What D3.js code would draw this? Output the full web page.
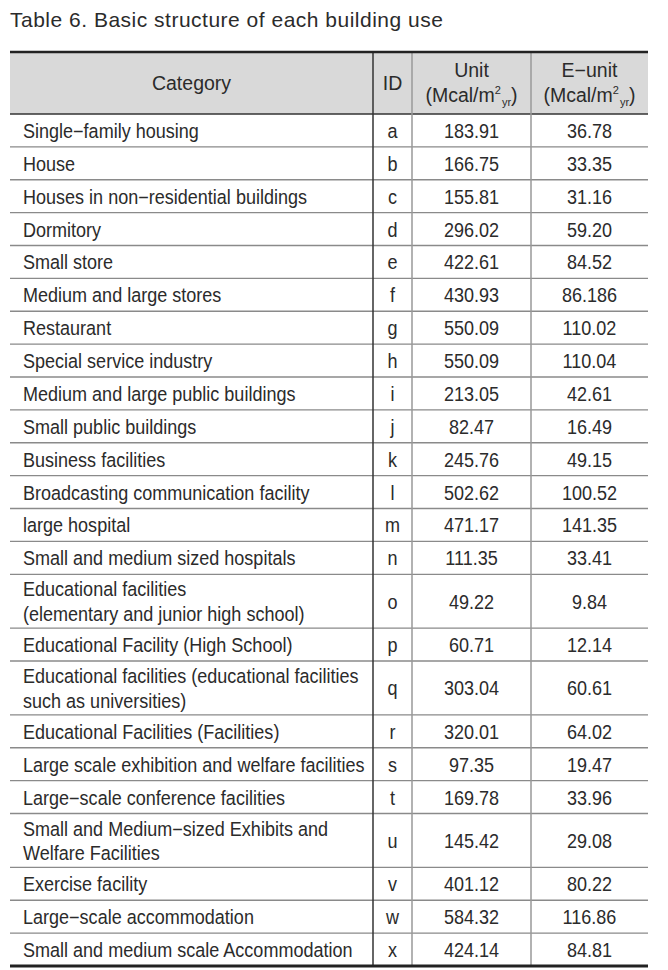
<!DOCTYPE html>
<html>
<head>
<meta charset="utf-8">
<script src="https://cdn.jsdelivr.net/npm/d3@7"></script>
<style>
  body { margin: 0; background: #fff; }
  svg text { font-family: "Liberation Sans", Arial, sans-serif; fill: #2b2b2b; }
</style>
</head>
<body>
<svg id="chart" width="668" height="970"></svg>
<script>
// table content
var title = "Table 6. Basic structure of each building use";

var categories = [
  "Single\u2212family housing",
  "House",
  "Houses in non\u2212residential buildings",
  "Dormitory",
  "Small store",
  "Medium and large stores",
  "Restaurant",
  "Special service industry",
  "Medium and large public buildings",
  "Small public buildings",
  "Business facilities",
  "Broadcasting communication facility",
  "large hospital",
  "Small and medium sized hospitals",
  "Educational facilities\n(elementary and junior high school)",
  "Educational Facility (High School)",
  "Educational facilities (educational facilities\nsuch as universities)",
  "Educational Facilities (Facilities)",
  "Large scale exhibition and welfare facilities",
  "Large\u2212scale conference facilities",
  "Small and Medium\u2212sized Exhibits and\nWelfare Facilities",
  "Exercise facility",
  "Large\u2212scale accommodation",
  "Small and medium scale Accommodation"
];

var ids = ["a","b","c","d","e","f","g","h","i","j","k","l","m","n","o","p","q","r","s","t","u","v","w","x"];

var unitValues = ["183.91","166.75","155.81","296.02","422.61","430.93","550.09","550.09","213.05","82.47",
  "245.76","502.62","471.17","111.35","49.22","60.71","303.04","320.01","97.35","169.78",
  "145.42","401.12","584.32","424.14"];

var eunitValues = ["36.78","33.35","31.16","59.20","84.52","86.186","110.02","110.04","42.61","16.49",
  "49.15","100.52","141.35","33.41","9.84","12.14","60.61","64.02","19.47","33.96",
  "29.08","80.22","116.86","84.81"];

var columnHeaders = ["Category", "ID", "Unit", "E\u2212unit"];

function drawTable() {
  var svg = d3.select("#chart");

  var tLeft = 10, tRight = 648,
      tTop = 52, headerH = 62,
      rowH = 32.9, lineH = 24.5, tBottom = 966,
      squeeze = 0.925;   // body font is a narrow face

  // column edges
  var colEdges = [tLeft, 373, 412, 531, tRight];

  // row layout
  var rows = categories.map(function (c, i) {
    var lines = c.split("\n");
    return {cat: lines, id: ids[i], unit: unitValues[i], eunit: eunitValues[i],
            h: lines.length > 1 ? rowH + 21 : rowH};
  });
  var y0 = tTop + headerH;
  var totalH = d3.sum(rows, function (d) { return d.h; });
  var k = (tBottom - y0) / totalH;
  rows.forEach(function (d) { d.h *= k; d.y = y0; y0 += d.h; });

  // title
  svg.append("text")
    .attr("x", tLeft)
    .attr("y", 27)
    .style("font-size", "21px")
    .style("letter-spacing", "0.5px")
    .text(title);

  // header background
  svg.append("rect")
    .attr("x", tLeft).attr("y", tTop)
    .attr("width", tRight - tLeft).attr("height", headerH)
    .attr("fill", "#d9d9d9");

  // row lines
  svg.selectAll("line.row")
    .data(rows.slice(1))
    .enter().append("line")
    .attr("class", "row")
    .attr("x1", tLeft).attr("x2", tRight)
    .attr("y1", function (d) { return d.y; })
    .attr("y2", function (d) { return d.y; })
    .attr("stroke", "#8a8a8a").attr("stroke-width", 1.3);

  svg.append("line")
    .attr("x1", tLeft).attr("x2", tRight)
    .attr("y1", tTop + headerH).attr("y2", tTop + headerH)
    .attr("stroke", "#333").attr("stroke-width", 1.3);

  // column lines
  svg.selectAll("line.col")
    .data(colEdges.slice(1, 4))
    .enter().append("line")
    .attr("class", "col")
    .attr("x1", function (d) { return d; }).attr("x2", function (d) { return d; })
    .attr("y1", tTop).attr("y2", tBottom)
    .attr("stroke", function (d, i) { return i === 0 ? "#333" : "#999"; })
    .attr("stroke-width", 1.5);

  // thick top and bottom rules
  svg.append("line")
    .attr("x1", tLeft).attr("x2", tRight).attr("y1", tTop).attr("y2", tTop)
    .attr("stroke", "#222").attr("stroke-width", 2.5);
  svg.append("line")
    .attr("x1", tLeft).attr("x2", tRight).attr("y1", tBottom).attr("y2", tBottom)
    .attr("stroke", "#222").attr("stroke-width", 3);

  function center(i) { return (colEdges[i] + colEdges[i + 1]) / 2; }

  // header text
  var hdr = svg.append("g").style("font-size", "19.5px").attr("text-anchor", "middle");
  hdr.append("text").attr("x", center(0)).attr("y", tTop + 38).text(columnHeaders[0]);
  hdr.append("text").attr("x", center(1)).attr("y", tTop + 38).text(columnHeaders[1]);
  [2, 3].forEach(function (i) {
    hdr.append("text").attr("x", center(i)).attr("y", tTop + 25).text(columnHeaders[i]);
    var t = hdr.append("text").attr("x", center(i)).attr("y", tTop + 50);
    t.append("tspan").text("(Mcal/m");
    t.append("tspan").attr("dy", -8).style("font-size", "11px").text("2");
    t.append("tspan").attr("dy", 11.5).attr("dx", 1).style("font-size", "11px").text("yr");
    t.append("tspan").attr("dy", -3.5).text(")");
  });

  // body rows
  var g = svg.selectAll("g.r")
    .data(rows)
    .enter().append("g")
    .attr("class", "r")
    .attr("transform", function (d) { return "translate(0," + d.y + ")"; })
    .style("font-size", "19.5px");

  function put(sel, x, y, txt, anchor) {
    sel.append("text")
      .attr("transform", "translate(" + x + "," + y + ") scale(" + squeeze + ",1)")
      .attr("text-anchor", anchor)
      .text(txt);
  }

  g.each(function (d) {
    var sel = d3.select(this);
    var n = d.cat.length;
    var start = d.h / 2 - (n - 1) * lineH / 2 + 7.5;
    d.cat.forEach(function (line, j) {
      put(sel, 23, start + j * lineH, line, "start");
    });
    [d.id, d.unit, d.eunit].forEach(function (v, j) {
      put(sel, center(j + 1), d.h / 2 + 7.5, v, "middle");
    });
  });
}

drawTable();
</script>
</body>
</html>
